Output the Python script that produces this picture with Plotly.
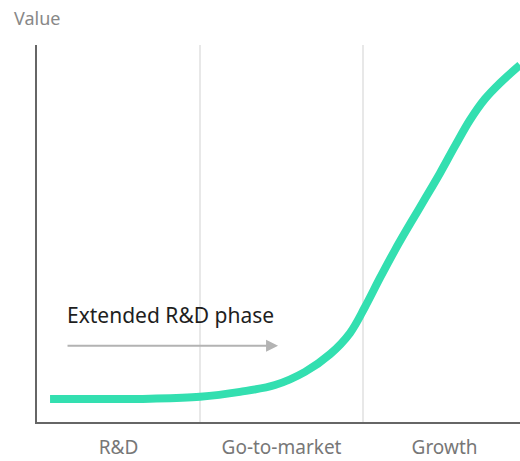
import plotly.graph_objects as go

# Stage categories on the x axis
stages = ["R&D", "Go-to-market", "Growth"]
stage_pos = [0.5, 1.5, 2.5]

# Value curve over the stages
curve_x = [0.080, 0.387, 0.693, 1.0, 1.245, 1.460, 1.644, 1.798, 1.920, 2.012,
           2.104, 2.196, 2.288, 2.380, 2.472, 2.564, 2.656, 2.748, 2.840, 2.963]
curve_y = [6.1, 6.1, 6.2, 6.7, 8.0, 9.8, 13.3, 18.0, 23.6, 30.5,
           38.2, 45.6, 52.5, 59.2, 66.0, 73.2, 80.1, 85.7, 89.9, 94.7]

FONT = "Noto Sans"

fig = go.Figure()
fig.add_trace(go.Scatter(
    x=curve_x, y=curve_y, mode="lines",
    line=dict(color="#33DFB0", width=8, shape="spline", smoothing=1.0),
    hoverinfo="skip", showlegend=False,
))

# Stage boundaries
for xb in [1, 2]:
    fig.add_shape(type="line", x0=xb, x1=xb, y0=0, y1=100, xref="x", yref="y",
                  line=dict(color="#e8e8e8", width=2), layer="below")

# Arrow marking the extended R&D phase
fig.add_annotation(x=1.479, y=20.2, ax=0.178, ay=20.2, xref="x", yref="y",
                   axref="x", ayref="y", text="", showarrow=True,
                   arrowhead=2, arrowsize=1.2, arrowwidth=2, arrowcolor="#b3b3b3")
fig.add_annotation(x=0.172, y=28.4, xref="x", yref="y", text="Extended R&D phase",
                   showarrow=False, xanchor="left", yanchor="middle",
                   font=dict(family=FONT, size=21, color="#1e1e1e"))

# Axis title placed above the y axis
fig.add_annotation(x=-37 / 483, y=1 + 27 / 377, xref="paper", yref="paper",
                   text="Value", showarrow=False, xanchor="left", yanchor="middle",
                   xshift=12, font=dict(family=FONT, size=18, color="#888888"))

fig.update_layout(
    width=520, height=461,
    margin=dict(l=37, r=0, t=45, b=39),
    paper_bgcolor="white", plot_bgcolor="white",
    font=dict(family=FONT, size=19, color="#777777"),
    xaxis=dict(range=[0, 2.963], tickvals=stage_pos, ticktext=stages,
               showgrid=False, zeroline=False, showline=True,
               linecolor="#666666", linewidth=2, ticks="", ticklen=0,
               ticklabelstandoff=7, automargin=False,
               tickfont=dict(family=FONT, size=19, color="#777777")),
    yaxis=dict(range=[0, 100], showgrid=False, zeroline=False, showline=True,
               linecolor="#666666", linewidth=2, showticklabels=False, ticks="",
               automargin=False),
)

fig.write_html("out.html")
